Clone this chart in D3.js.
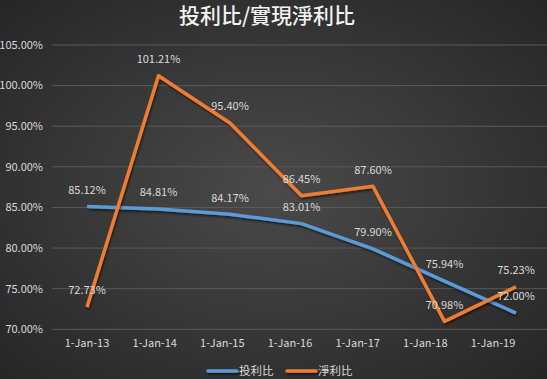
<!DOCTYPE html>
<html><head><meta charset="utf-8">
<script src="https://cdn.jsdelivr.net/npm/d3@7"></script>
<style>html,body{margin:0;padding:0;background:#333;}svg{display:block;}</style>
</head><body>
<svg id="c" width="547" height="379"></svg>
<script>
const categories = ["1-Jan-13","1-Jan-14","1-Jan-15","1-Jan-16","1-Jan-17","1-Jan-18","1-Jan-19"];
const seriesNames = ["投利比","淨利比"];
const touLiBi = [85.12, 84.81, 84.17, 83.01, 79.90, 75.94, 72.00];
const jingLiBi = [72.73, 101.21, 95.40, 86.45, 87.60, 70.98, 75.23];
const yTicks = [70, 75, 80, 85, 90, 95, 100, 105];
const title = "投利比/實現淨利比";

const colors = ["#5b9bd5", "#ed7d31"];
const W = 547, H = 379;
const font = "'Noto Sans CJK TC','Noto Sans',sans-serif";
const svg = d3.select("#c");
const defs = svg.append("defs");
const g = defs.append("radialGradient").attr("id","bg").attr("cx","50%").attr("cy","50%").attr("r","70%");
g.append("stop").attr("offset","0%").attr("stop-color","#4a4a4a");
g.append("stop").attr("offset","100%").attr("stop-color","#262626");
const f = defs.append("filter").attr("id","sh").attr("filterUnits","userSpaceOnUse")
  .attr("x",0).attr("y",0).attr("width",W).attr("height",H);
f.append("feDropShadow").attr("dx",1).attr("dy",2).attr("stdDeviation",1.2).attr("flood-color","#000").attr("flood-opacity",0.55);

svg.append("rect").attr("width",W).attr("height",H).attr("fill","url(#bg)");

const y = d3.scaleLinear().domain([70,105]).range([329.3,45]);
const xPts = d3.scalePoint().domain(categories).range([87,516]);
const xLab = d3.scalePoint().domain(categories).range([87,493]);

// gridlines
svg.append("g").selectAll("line").data(yTicks).join("line")
  .attr("x1",52).attr("x2",W).attr("y1",d=>y(d)).attr("y2",d=>y(d))
  .attr("stroke","#5a5a5a").attr("stroke-width",1);

// y labels
svg.append("g").selectAll("text").data(yTicks).join("text")
  .attr("x",43).attr("y",d=>y(d)).attr("dy","0.35em").attr("text-anchor","end")
  .attr("fill","#d9d9d9").attr("font-size",11).attr("font-family",font)
  .text(d=>d.toFixed(2)+"%");

// x labels
svg.append("g").selectAll("text").data(categories).join("text")
  .attr("x",d=>xLab(d)).attr("y",343).attr("dy","0.35em").attr("text-anchor","middle")
  .attr("fill","#d9d9d9").attr("font-size",11).attr("font-family",font)
  .text(d=>d);

const series = [touLiBi, jingLiBi];
const line = d3.line().x((d,i)=>xPts(categories[i])).y(d=>y(d));
series.forEach((s,k)=>{
  svg.append("path").datum(s).attr("d",line).attr("fill","none")
    .attr("stroke",colors[k]).attr("stroke-width",3.5).attr("stroke-linejoin","round")
    .attr("filter","url(#sh)");
});
series.forEach((s,k)=>{
  svg.append("g").selectAll("text").data(s).join("text")
    .attr("x",(d,i)=>xPts(categories[i])).attr("y",d=>y(d)-16.5).attr("dy","0.35em")
    .attr("text-anchor","middle").attr("fill","#d9d9d9").attr("font-size",11).attr("font-family",font)
    .text(d=>d.toFixed(2)+"%");
});

// title
svg.append("text").attr("x",267).attr("y",16).attr("dy","0.35em").attr("text-anchor","middle")
  .attr("fill","#f2f2f2").attr("font-size",21).attr("font-weight",500).attr("font-family",font).text(title);

// legend
const legX = [208, 287];
seriesNames.forEach((n,k)=>{
  svg.append("line").attr("x1",legX[k]).attr("x2",legX[k]+29).attr("y1",371).attr("y2",371)
    .attr("stroke",colors[k]).attr("stroke-width",3.5).attr("stroke-linecap","round").attr("filter","url(#sh)");
  svg.append("text").attr("x",legX[k]+31).attr("y",371).attr("dy","0.35em")
    .attr("fill","#d9d9d9").attr("font-size",11.5).attr("font-family",font).text(n);
});
</script>
</body></html>
